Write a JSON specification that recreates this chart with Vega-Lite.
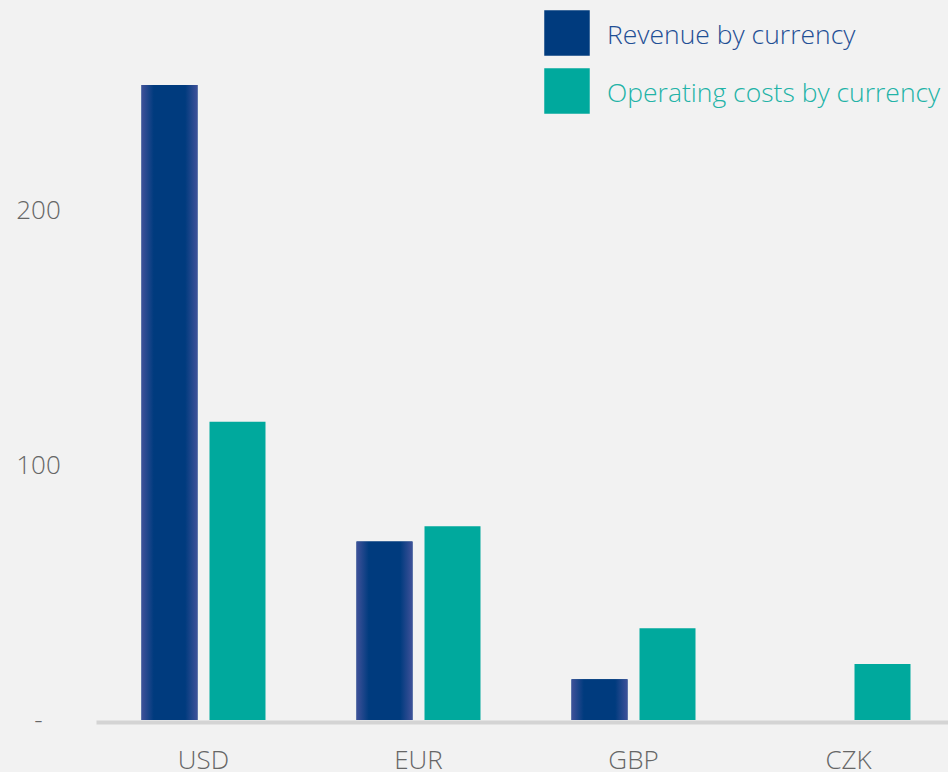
{
  "$schema": "https://vega.github.io/schema/vega-lite/v6.json",
  "width": 860,
  "height": 714,
  "autosize": {"type": "none"},
  "padding": {"top": 6, "left": 96, "right": 0, "bottom": 52},
  "background": "#f2f2f2",
  "config": {"view": {"stroke": null}, "font": "Open Sans"},
  "data": {
    "values": [
      {"currency": "USD", "series": "Revenue by currency", "value": 249},
      {"currency": "USD", "series": "Operating costs by currency", "value": 117},
      {"currency": "EUR", "series": "Revenue by currency", "value": 70},
      {"currency": "EUR", "series": "Operating costs by currency", "value": 76},
      {"currency": "GBP", "series": "Revenue by currency", "value": 16},
      {"currency": "GBP", "series": "Operating costs by currency", "value": 36},
      {"currency": "CZK", "series": "Revenue by currency", "value": 0},
      {"currency": "CZK", "series": "Operating costs by currency", "value": 22}
    ]
  },
  "encoding": {
    "x": {
      "field": "currency",
      "type": "nominal",
      "sort": ["USD", "EUR", "GBP", "CZK"],
      "scale": {"paddingInner": 0.4233, "paddingOuter": 0.2116},
      "axis": {
        "title": null,
        "ticks": false,
        "tickSize": 0,
        "labelAngle": 0,
        "labelFont": "Open Sans",
        "labelFontWeight": 300,
        "labelFontSize": 26,
        "labelColor": "#666666",
        "labelPadding": 25,
        "domainColor": "#d4d4d4",
        "domainWidth": 4,
        "offset": 2
      }
    },
    "xOffset": {
      "field": "series",
      "type": "nominal",
      "sort": ["Revenue by currency", "Operating costs by currency"],
      "scale": {"domain": ["Revenue by currency", "Operating costs by currency"], "paddingInner": 0.1765, "paddingOuter": 0}
    },
    "y": {
      "field": "value",
      "type": "quantitative",
      "scale": {"domain": [0, 280], "nice": false},
      "axis": {
        "title": null,
        "values": [0, 100, 200],
        "grid": false,
        "domain": false,
        "ticks": false,
        "tickSize": 0,
        "labelAlign": "center",
        "labelBaseline": "middle",
        "labelPadding": 58,
        "labelFont": "Open Sans",
        "labelFontWeight": 300,
        "labelFontSize": 26,
        "labelColor": "#666666",
        "labelExpr": "datum.value == 0 ? '-' : datum.label"
      }
    }
  },
  "layer": [
    {
      "mark": {"type": "bar"},
      "encoding": {
        "color": {
          "field": "series",
          "type": "nominal",
          "scale": {"domain": ["Revenue by currency", "Operating costs by currency"], "range": ["#003b7e", "#00a99d"]},
          "legend": {
            "title": null,
            "orient": "none",
            "legendX": 448,
            "legendY": 4,
            "symbolType": "square",
            "symbolSize": 2070,
            "symbolStrokeWidth": 0,
            "symbolOpacity": 1,
            "rowPadding": 12,
            "labelOffset": 17,
            "labelFont": "Open Sans",
            "labelFontWeight": 300,
            "labelFontSize": 26.5,
            "labelLimit": 500,
            "encode": {
              "labels": {
                "update": {
                  "fill": {"signal": "datum.value == 'Revenue by currency' ? '#1f4f95' : '#22b3a7'"},
                  "dy": {"value": 3}
                }
              }
            }
          }
        }
      }
    },
    {
      "transform": [{"filter": "datum.series == 'Revenue by currency'"}],
      "mark": {
        "type": "bar",
        "color": {
          "gradient": "linear",
          "x1": 0, "y1": 0, "x2": 1, "y2": 0,
          "stops": [
            {"offset": 0, "color": "#3f5199"},
            {"offset": 0.22, "color": "#003b7e"},
            {"offset": 0.78, "color": "#003b7e"},
            {"offset": 1, "color": "#3f5199"}
          ]
        }
      }
    }
  ]
}
